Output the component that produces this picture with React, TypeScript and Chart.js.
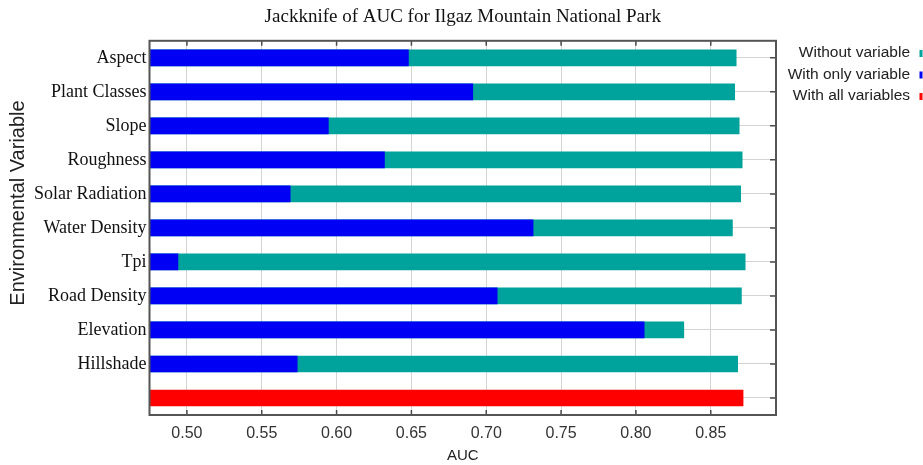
import React, { useEffect, useRef } from 'react';
import { Chart, registerables } from 'chart.js';

Chart.register(...registerables);

const categories = [
  'Aspect',
  'Plant Classes',
  'Slope',
  'Roughness',
  'Solar Radiation',
  'Water Density',
  'Tpi',
  'Road Density',
  'Elevation',
  'Hillshade',
  '',
];

const withoutVariable = [0.867, 0.866, 0.869, 0.871, 0.870, 0.8645, 0.873, 0.8705, 0.832, 0.868, null];
const withOnlyVariable = [0.648, 0.691, 0.5945, 0.632, 0.569, 0.7313, 0.494, 0.7073, 0.8055, 0.5737, null];
const withAllVariables = [null, null, null, null, null, null, null, null, null, null, 0.8716];

const xTickValues = [0.5, 0.55, 0.6, 0.65, 0.7, 0.75, 0.8, 0.85];
const xMin = 0.475;
const xMax = 0.8936;

const titleText = 'Jackknife of AUC for Ilgaz Mountain National Park';
const xTitleText = 'AUC';
const yTitleText = 'Environmental Variable';
const seriesLabels = ['Without variable', 'With only variable', 'With all variables'];
const seriesColors = ['#00a29c', '#0000f5', '#ff0000'];

const frameAndTicksPlugin = {
  id: 'frameAndTicks',
  afterDatasetsDraw(chart: any) {
    const { ctx, chartArea } = chart;
    const { left, right, top, bottom } = chartArea;
    const xs = chart.scales.x;
    const ys = chart.scales.y;
    ctx.save();
    ctx.strokeStyle = '#4a4a4a';
    ctx.lineWidth = 1.5;
    ctx.beginPath();
    xTickValues.forEach((v) => {
      const px = xs.getPixelForValue(v);
      ctx.moveTo(px, top);
      ctx.lineTo(px, top + 5);
      ctx.moveTo(px, bottom);
      ctx.lineTo(px, bottom - 5);
    });
    categories.forEach((_c, i) => {
      const py = ys.getPixelForValue(i);
      ctx.moveTo(right, py);
      ctx.lineTo(right - 6, py);
    });
    ctx.stroke();
    ctx.lineWidth = 2;
    ctx.strokeStyle = '#555555';
    ctx.strokeRect(left, top, right - left, bottom - top);
    ctx.restore();
  },
};

const sideTextPlugin = {
  id: 'sideText',
  afterDraw(chart: any) {
    const { ctx } = chart;
    ctx.save();
    // y-axis title
    ctx.translate(18, 203);
    ctx.rotate(-Math.PI / 2);
    ctx.font = '20px "Liberation Sans", Arial, sans-serif';
    ctx.fillStyle = '#222';
    ctx.textAlign = 'center';
    ctx.textBaseline = 'middle';
    ctx.fillText(yTitleText, 0, 0);
    ctx.restore();

    // legend
    ctx.save();
    ctx.font = '15.5px "Liberation Sans", Arial, sans-serif';
    ctx.textAlign = 'right';
    ctx.textBaseline = 'middle';
    seriesLabels.forEach((lab, i) => {
      const y = 53 + i * 21.5;
      ctx.fillStyle = '#222';
      ctx.fillText(lab, 910, y);
      ctx.fillStyle = seriesColors[i];
      ctx.fillRect(919.5, y - 3, 3, 7);
    });
    ctx.restore();
  },
};

export default function App() {
  const canvasRef = useRef<HTMLCanvasElement | null>(null);

  useEffect(() => {
    if (!canvasRef.current) return;
    const chart = new Chart(canvasRef.current, {
      type: 'bar',
      data: {
        labels: categories,
        datasets: [
          {
            label: seriesLabels[0],
            data: withoutVariable,
            backgroundColor: seriesColors[0],
            barThickness: 16,
            grouped: false,
            order: 2,
          },
          {
            label: seriesLabels[1],
            data: withOnlyVariable,
            backgroundColor: seriesColors[1],
            barThickness: 16,
            grouped: false,
            order: 1,
          },
          {
            label: seriesLabels[2],
            data: withAllVariables,
            backgroundColor: seriesColors[2],
            barThickness: 16,
            grouped: false,
            order: 1,
          },
        ] as any,
      },
      options: {
        indexAxis: 'y',
        animation: false,
        responsive: true,
        maintainAspectRatio: false,
        layout: { padding: { left: 0, right: 147, top: 0, bottom: 0 } },
        plugins: {
          legend: { display: false },
          tooltip: { enabled: false },
          title: {
            display: true,
            text: titleText,
            fullSize: false,
            color: '#111',
            font: { family: '"Liberation Serif", "Times New Roman", serif', size: 19, weight: 'normal' },
            padding: { top: 6, bottom: 12 },
          },
        },
        scales: {
          x: {
            type: 'linear',
            min: xMin,
            max: xMax,
            afterBuildTicks: (scale: any) => {
              scale.ticks = xTickValues.map((v) => ({ value: v }));
            },
            afterFit: (scale: any) => {
              scale.height = 50;
            },
            ticks: {
              callback: (v: any) => Number(v).toFixed(2),
              color: '#333',
              padding: 9,
              font: { family: '"Liberation Sans", Arial, sans-serif', size: 16 },
            },
            grid: { color: '#d4d4d4', drawTicks: false, lineWidth: 1 },
            border: { display: false },
            title: {
              display: true,
              text: xTitleText,
              color: '#222',
              padding: { top: 0, bottom: 0 },
              font: { family: '"Liberation Sans", Arial, sans-serif', size: 15 },
            },
          },
          y: {
            type: 'category',
            offset: true,
            afterFit: (scale: any) => {
              scale.width = 149.5;
            },
            ticks: {
              color: '#111',
              padding: 3,
              font: { family: '"Liberation Serif", "Times New Roman", serif', size: 18 },
            },
            grid: { color: '#d4d4d4', drawTicks: false, offset: false, lineWidth: 1 },
            border: { display: false },
          },
        },
      } as any,
      plugins: [frameAndTicksPlugin, sideTextPlugin],
    });
    return () => chart.destroy();
  }, []);

  return (
    <div style={{ position: 'absolute', left: 0, top: 0, width: 923, height: 465 }}>
      <canvas ref={canvasRef} />
    </div>
  );
}
